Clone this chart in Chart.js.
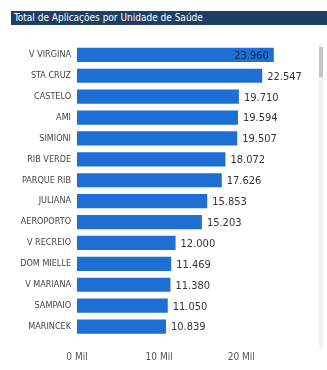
<!DOCTYPE html>
<html>
<head>
<meta charset="utf-8">
<script src="https://cdn.jsdelivr.net/npm/chart.js@4/dist/chart.umd.min.js"></script>
<style>
  html, body { margin: 0; padding: 0; background: #fff; }
  body { width: 327px; height: 370px; position: relative; overflow: hidden; }
  #title {
    position: absolute; left: 11px; top: 11px; width: 316px; height: 14px;
    background: #1d3f63; color: #fff;
    font: 10px "Liberation Sans Narrow", "DejaVu Sans Condensed", sans-serif;
    line-height: 14px; padding-left: 3px; box-sizing: border-box; white-space: nowrap;
  }
  #track { position: absolute; left: 319px; top: 44px; width: 4px; height: 306px; background: #f1f1f1; }
  #thumb { position: absolute; left: 319px; top: 47px; width: 4px; height: 30px; background: #c4c4c4; }
  #wrap { position: absolute; left: 0; top: 33px; width: 318px; height: 337px; }
</style>
</head>
<body>
<div id="title">Total de Aplicações por Unidade de Saúde</div>
<div id="track"></div>
<div id="thumb"></div>
<div id="wrap"><canvas id="c"></canvas></div>
<script>
// categorias e valores
const unidades = ["V VIRGINA", "STA CRUZ", "CASTELO", "AMI", "SIMIONI", "RIB VERDE", "PARQUE RIB",
  "JULIANA", "AEROPORTO", "V RECREIO", "DOM MIELLE", "V MARIANA", "SAMPAIO", "MARINCEK"];
const aplicacoes = [23960, 22547, 19710, 19594, 19507, 18072, 17626, 15853, 15203, 12000, 11469, 11380, 11050, 10839];
const ticksX = [0, 10000, 20000];

const fonte = '"Liberation Sans Narrow", "DejaVu Sans Condensed", sans-serif';

// formata 23960 -> 23.960
function fmt(v) {
  return String(v).replace(/\B(?=(\d{3})+(?!\d))/g, ".");
}

// rótulos de valor no fim das barras
const rotulos = {
  id: "rotulos",
  afterDatasetsDraw(chart) {
    const ctx = chart.ctx;
    const meta = chart.getDatasetMeta(0);
    ctx.save();
    ctx.font = "11px " + fonte;
    ctx.textBaseline = "middle";
    meta.data.forEach((bar, i) => {
      const txt = fmt(aplicacoes[i]);
      const w = ctx.measureText(txt).width;
      if (bar.x + w + 6 > chart.chartArea.right) {
        // não cabe fora: dentro da barra
        ctx.fillStyle = "#0d2a52";
        ctx.textAlign = "right";
        ctx.fillText(txt, bar.x - 5, bar.y + 1);
      } else {
        ctx.fillStyle = "#333";
        ctx.textAlign = "left";
        ctx.fillText(txt, bar.x + 5, bar.y + 1);
      }
    });
    ctx.restore();
  }
};

new Chart(document.getElementById("c"), {
  type: "bar",
  data: {
    labels: unidades,
    datasets: [{
      data: aplicacoes,
      backgroundColor: "#1d6fd3",
      borderWidth: 0,
      barPercentage: 0.68,
      categoryPercentage: 1
    }]
  },
  options: {
    indexAxis: "y",
    responsive: true,
    maintainAspectRatio: false,
    animation: false,
    layout: { padding: { top: 0, right: 11, left: 0, bottom: 0 } },
    plugins: { legend: { display: false }, tooltip: { enabled: false } },
    scales: {
      x: {
        min: 0,
        max: 28000,
        afterBuildTicks(scale) {
          scale.ticks = ticksX.map(v => ({ value: v }));
        },
        afterFit(scale) { scale.height = 33; },
        grid: { display: false, drawTicks: false },
        border: { display: false },
        ticks: {
          padding: 14,
          color: "#555",
          font: { family: fonte, size: 10 },
          callback: v => (v / 1000) + " Mil"
        }
      },
      y: {
        afterFit(scale) { scale.width = 77; },
        grid: { display: false, drawTicks: false },
        border: { display: false },
        ticks: {
          padding: 6,
          color: "#444",
          font: { family: fonte, size: 9 }
        }
      }
    }
  },
  plugins: [rotulos]
});
</script>
</body>
</html>
